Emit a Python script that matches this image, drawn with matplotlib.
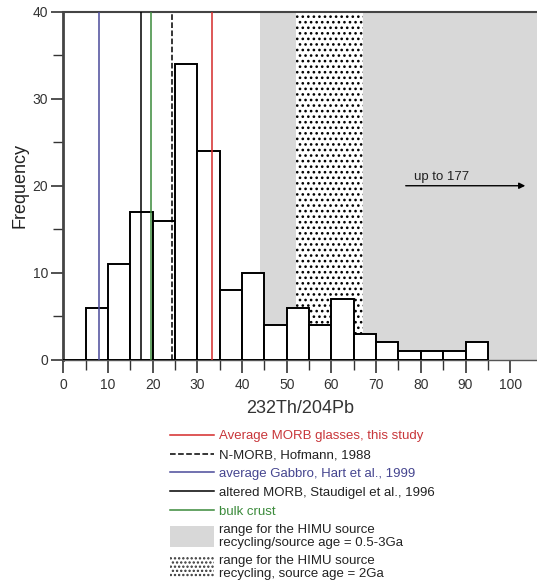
import matplotlib
matplotlib.use("Agg")
import matplotlib.pyplot as plt
from matplotlib.lines import Line2D
from matplotlib.patches import Patch, Rectangle
from matplotlib.legend_handler import HandlerPatch

plt.rcParams["font.family"] = ["Liberation Sans", "DejaVu Sans"]
plt.rcParams["hatch.linewidth"] = 1.1

# histogram of 232Th/204Pb (bin width 5)
bin_left = [0, 5, 10, 15, 20, 25, 30, 35, 40, 45, 50, 55, 60, 65, 70, 75, 80, 85, 90]
counts = [0, 6, 11, 17, 16, 34, 24, 8, 10, 4, 6, 4, 7, 3, 2, 1, 1, 1, 2]
bin_width = 5

# reference values
ref_names = ["Average MORB glasses, this study",
             "N-MORB, Hofmann, 1988",
             "average Gabbro, Hart et al., 1999",
             "altered MORB, Staudigel et al., 1996",
             "bulk crust"]
ref_values = [33.3, 24.4, 8.0, 17.3, 19.7]
ref_colors = ["#d42a2a", "black", "#4a4a9a", "black", "#3a8a3a"]
ref_styles = ["-", "--", "-", "-", "-"]
text_colors = ["#c8363a", "#222222", "#45458f", "#222222", "#3a8a3a"]

# HIMU source ranges
himu_range = (44, 106)
himu_2ga = (52, 67)


def tall_box(legend, orig_handle, xdescent, ydescent, width, height, fontsize):
    # legend boxes are taller than the line rows
    h = 1.6 * fontsize
    return Rectangle((-xdescent, -ydescent + height / 2 - h / 2), width, h)


fig = plt.figure(figsize=(5.37, 5.85), dpi=100)
ax = fig.add_axes([0.118, 0.385, 0.882, 0.595])

ax.axvspan(*himu_range, color="#d8d8d8", lw=0, zorder=0)
ax.axvspan(*himu_2ga, facecolor="white", edgecolor="black", hatch="...", lw=0, zorder=1)

ax.bar(bin_left, counts, width=bin_width, align="edge", facecolor="white",
       edgecolor="black", lw=1.4, zorder=3)

for v, c, s in zip(ref_values, ref_colors, ref_styles):
    ax.axvline(v, color=c, ls=s, lw=1.1, zorder=4)

ax.annotate("", xy=(104, 20), xytext=(76, 20),
            arrowprops=dict(arrowstyle="-|>", color="black", lw=1, mutation_scale=9), zorder=5)
ax.text(78.5, 20.7, "up to 177", fontsize=9.5, color="#222222", zorder=5)

ax.set_xlim(0, 106)
ax.set_ylim(0, 40)
ax.set_xticks(range(0, 101, 10))
ax.set_xticks(range(5, 101, 5), minor=True)
ax.set_yticks(range(0, 41, 10))
ax.set_yticks(range(5, 41, 10), minor=True)
ax.tick_params(axis="both", which="major", length=9, width=1.2, labelsize=10,
               colors="#333333", pad=4)
ax.tick_params(axis="both", which="minor", length=7, width=1, colors="#333333")
ax.tick_params(axis="y", which="major", pad=2)

ax.spines["right"].set_visible(False)
ax.spines["left"].set_linewidth(2)
ax.spines["left"].set_color("#444444")
ax.spines["top"].set_linewidth(1.5)
ax.spines["top"].set_color("#444444")
ax.spines["bottom"].set_linewidth(1)
ax.spines["bottom"].set_color("#555555")

ax.set_xlabel("232Th/204Pb", fontsize=13, color="#333333", labelpad=6)
ax.set_ylabel("Frequency", fontsize=13, color="#222222", labelpad=3)

handles = [Line2D([], [], color=c, ls=s, lw=1.1) for c, s in zip(ref_colors, ref_styles)]
handles.append(Patch(facecolor="#d8d8d8", edgecolor="none"))
handles.append(Patch(facecolor="white", edgecolor="#333333", lw=0, hatch="...."))
labels = ref_names + ["range for the HIMU source\nrecycling/source age = 0.5-3Ga",
                      "range for the HIMU source\nrecycling, source age = 2Ga"]
leg = fig.legend(handles, labels, loc="upper left", bbox_to_anchor=(0.305, 0.276),
                 frameon=False, fontsize=9.5, handlelength=3.3, handleheight=0.7,
                 handletextpad=0.35, labelspacing=0.5, borderpad=0,
                 handler_map={Patch: HandlerPatch(patch_func=tall_box)})
for t, c in zip(leg.get_texts(), text_colors + ["#222222", "#222222"]):
    t.set_color(c)
    t.set_linespacing(1.05)

fig.savefig("out.png", dpi=100)
